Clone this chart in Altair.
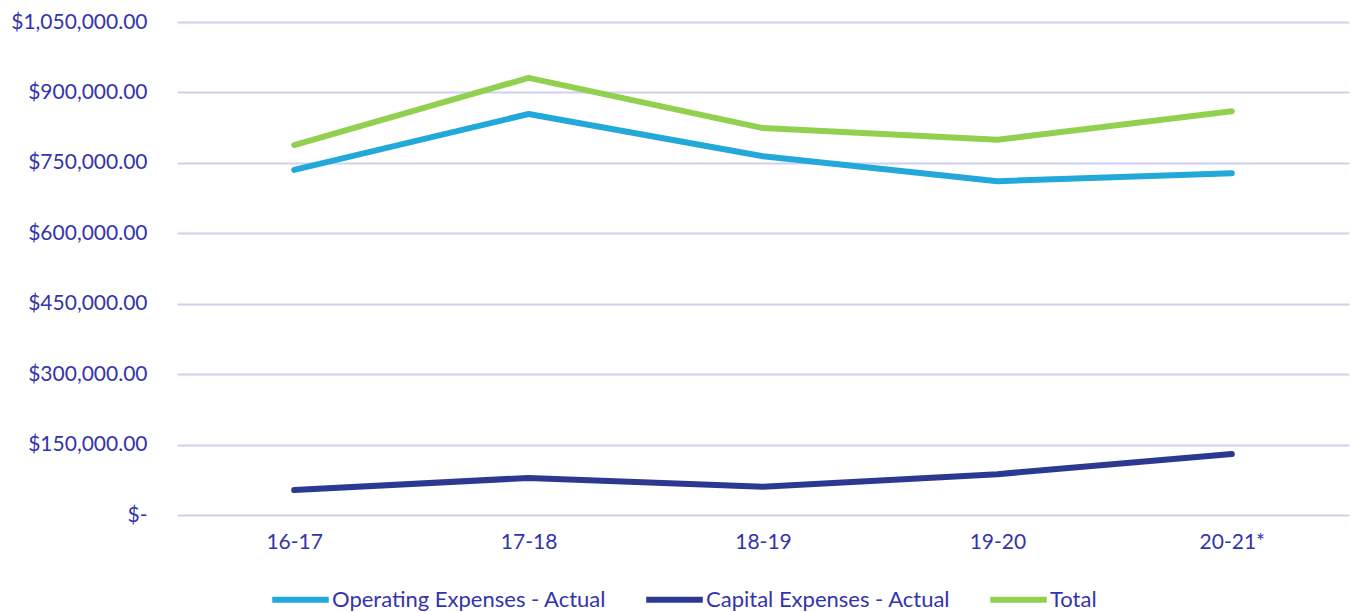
import altair as alt
import pandas as pd

years = ["16-17", "17-18", "18-19", "19-20", "20-21*"]
operating = [735000, 854000, 764000, 711000, 728000]
capital = [53000, 79000, 60000, 87000, 130000]
total = [788000, 931000, 824000, 799000, 860000]

series_names = ["Operating Expenses - Actual", "Capital Expenses - Actual", "Total"]
series_colors = ["#22A9DA", "#2B3990", "#92D050"]

rows = []
for name, vals in zip(series_names, [operating, capital, total]):
    for y, v in zip(years, vals):
        rows.append({"Year": y, "Value": v, "Series": name})
df = pd.DataFrame(rows)

TXT = "#3434AC"
FONT = "Lato"
FS = 21

chart = alt.Chart(df).mark_line(strokeWidth=6, strokeCap="round", strokeJoin="round").encode(
    x=alt.X("Year:N", sort=years, scale=alt.Scale(type="point", padding=0.5),
            axis=alt.Axis(title=None, labelAngle=0, domain=False, ticks=False, grid=False,
                          labelPadding=16, labelFontSize=FS, labelColor=TXT, labelFont=FONT)),
    y=alt.Y("Value:Q", scale=alt.Scale(domain=[0, 1050000], nice=False),
            axis=alt.Axis(title=None, values=[0, 150000, 300000, 450000, 600000, 750000, 900000, 1050000],
                          labelExpr="datum.value == 0 ? '$-' : '$' + format(datum.value, ',.2f')",
                          domain=False, ticks=False, gridColor="#D0D0F2", gridWidth=2,
                          labelPadding=30, labelFontSize=FS, labelColor=TXT, labelFont=FONT)),
    color=alt.Color("Series:N", sort=series_names,
                    scale=alt.Scale(domain=series_names, range=series_colors),
                    legend=alt.Legend(title=None, orient="none", direction="horizontal",
                                      legendX=92, legendY=546,
                                      symbolType="stroke", symbolSize=3200, symbolStrokeWidth=6,
                                      labelFontSize=22, labelColor=TXT, labelFont=FONT,
                                      labelOffset=0, columnPadding=27, labelLimit=400)),
).properties(
    width=1172, height=493,
    autosize=alt.AutoSizeParams(type="none"),
    padding={"left": 177, "top": 22, "right": 5, "bottom": 97},
).configure_view(stroke=None)

chart.save("out.html", embed_options={"renderer": "svg", "actions": False})
